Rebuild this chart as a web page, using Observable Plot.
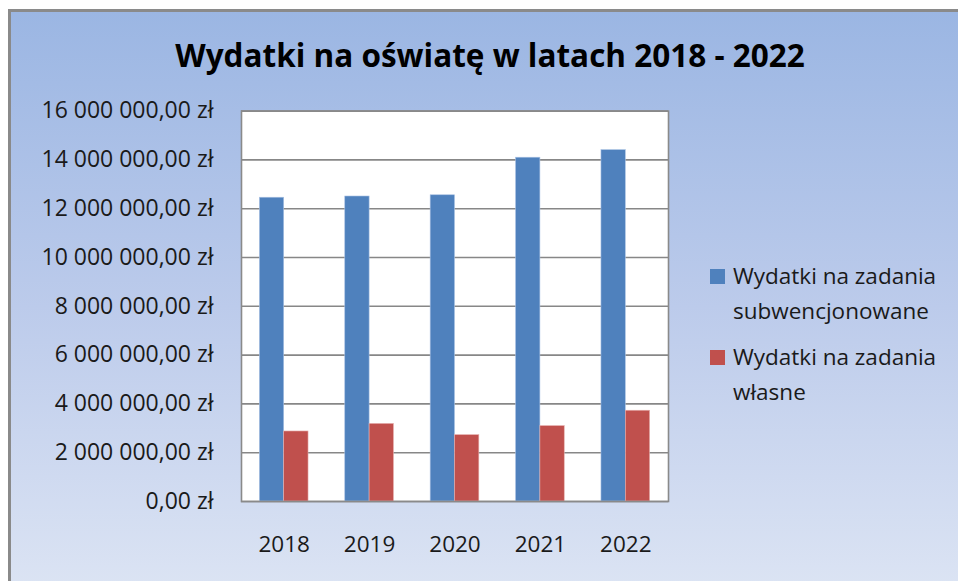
<!DOCTYPE html>
<html>
<head>
<meta charset="utf-8">
<script src="https://cdn.jsdelivr.net/npm/d3@7"></script>
<script src="https://cdn.jsdelivr.net/npm/@observablehq/plot@0.6"></script>
<style>
  html, body { margin: 0; padding: 0; }
  body { width: 958px; height: 581px; overflow: hidden; position: relative; background: #fff; font-family: "Open Sans", sans-serif; color: #1a1a1a; }
  #box { position: absolute; left: 8px; top: 9px; width: 960px; height: 590px; border-left: 3px solid #8a8a8a; border-top: 3px solid #8a8a8a; background: linear-gradient(to bottom, #9bb6e3 0%, #bccbeb 50%, #dde5f4 100%); }
  #title { position: absolute; left: 0; width: 980px; top: 33px; text-align: center; font-weight: bold; font-size: 31.5px; color: #000; white-space: nowrap; }
  #chart { position: absolute; left: 0; top: 0; }
  #legend { position: absolute; left: 710px; top: 258px; font-size: 22.5px; line-height: 35px; }
  .item { position: relative; padding-left: 23px; margin-bottom: 11px; }
  .sw { position: absolute; left: 0; top: 11px; width: 15px; height: 15px; }
</style>
</head>
<body>
<div id="box"></div>
<div id="title">Wydatki na oświatę w latach 2018 - 2022</div>
<div id="chart"></div>
<div id="legend"></div>
<script>
const years = ["2018", "2019", "2020", "2021", "2022"];
const subwencjonowane = [12450000, 12500000, 12550000, 14090000, 14400000];
const wlasne = [2870000, 3180000, 2720000, 3090000, 3720000];
const seriesNames = ["Wydatki na zadania subwencjonowane", "Wydatki na zadania własne"];
const legendLines = [["Wydatki na zadania", "subwencjonowane"], ["Wydatki na zadania", "własne"]];
const seriesColors = ["#4f81bd", "#c0504d"];
const yTicks = [0, 2000000, 4000000, 6000000, 8000000, 10000000, 12000000, 14000000, 16000000];

const rows = [];
years.forEach((y, i) => {
  rows.push({year: y, series: seriesNames[0], value: subwencjonowane[i]});
  rows.push({year: y, series: seriesNames[1], value: wlasne[i]});
});

const locale = d3.formatLocale({decimal: ",", thousands: "\u00a0", grouping: [3], currency: ["", " zł"]});
const fmt = locale.format("$,.2f");

const W = 690, H = 581, mL = 241, mR = 22, mT = 110.6, mB = 80;
const pIn = 0.43, pOut = 0.215;
const step = (W - mL - mR) / (years.length - pIn + 2 * pOut);
const half = step * (1 - pIn) / 2;

const chart = Plot.plot({
  width: W, height: H,
  marginLeft: mL, marginRight: mR, marginTop: mT, marginBottom: mB,
  style: {background: "transparent", fontFamily: "Open Sans, sans-serif", fontSize: "22px", color: "#1a1a1a"},
  x: {domain: years, paddingInner: pIn, paddingOuter: pOut, round: false, label: null},
  y: {domain: [0, 16000000], label: null},
  color: {domain: seriesNames, range: seriesColors},
  marks: [
    Plot.frame({fill: "white", stroke: "none"}),
    Plot.gridY(yTicks, {stroke: "#878787", strokeOpacity: 1, strokeWidth: 1.6}),
    Plot.barY(rows.filter(d => d.series === seriesNames[0]), {x: "year", y: "value", fill: "series", insetRight: half, stroke: "#a9c1e3", strokeWidth: 0.6}),
    Plot.barY(rows.filter(d => d.series === seriesNames[1]), {x: "year", y: "value", fill: "series", insetLeft: half, stroke: "#e6b0ae", strokeWidth: 0.6}),
    Plot.frame({stroke: "#8a8a8a", strokeWidth: 1.6}),
    Plot.axisY(yTicks, {tickSize: 0, tickPadding: 28, tickFormat: fmt, fontSize: 23}),
    Plot.axisX({tickSize: 0, tickPadding: 35, fontSize: 22.5})
  ]
});
document.getElementById("chart").appendChild(chart);

const legend = document.getElementById("legend");
legendLines.forEach((lines, i) => {
  const div = document.createElement("div");
  div.className = "item";
  const sw = document.createElement("span");
  sw.className = "sw";
  sw.style.background = seriesColors[i];
  div.appendChild(sw);
  lines.forEach((t, j) => {
    if (j) div.appendChild(document.createElement("br"));
    div.appendChild(document.createTextNode(t));
  });
  legend.appendChild(div);
});
</script>
</body>
</html>
